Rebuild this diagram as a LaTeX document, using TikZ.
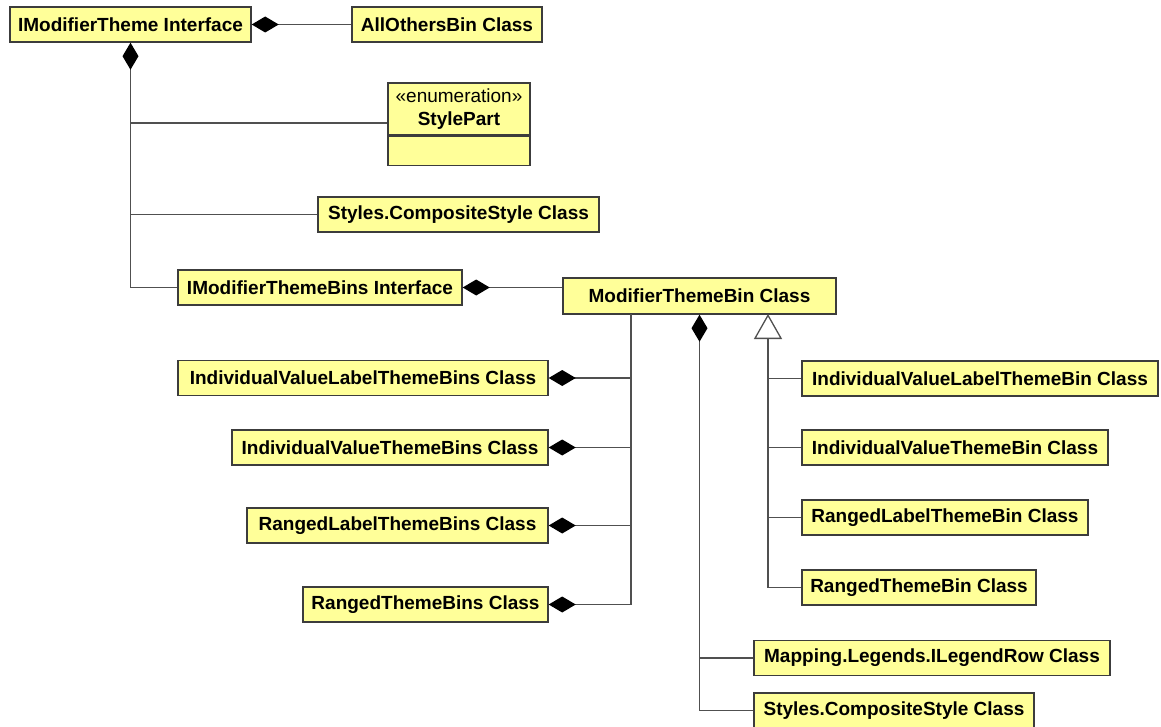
\documentclass[tikz,border=0pt]{standalone}
\usepackage{fontspec}
\setmainfont{Liberation Sans}
\usetikzlibrary{arrows.meta}
\definecolor{umlyellow}{RGB}{255,255,153}
\definecolor{umlborder}{RGB}{60,60,60}
\definecolor{umlline}{RGB}{80,80,80}
\begin{document}
\begin{tikzpicture}[x=1pt,y=-1pt,
  umlbox/.style={draw=umlborder, line width=1.4pt, fill=umlyellow, inner sep=0pt,
    minimum height=35pt, font=\fontsize{19}{22}\selectfont\bfseries, align=center},
  conn/.style={draw=umlline, line width=1.4pt},
  comp/.style={conn, {Diamond[black, fill=black, length=27pt, width=16pt]}-},
  inh/.style={conn, {Triangle[open, umlline, fill=white, length=25pt, width=28pt, line width=1.3pt]}-}
]
\useasboundingbox (0,0) rectangle (1161,727);

\node[umlbox, minimum width=241pt] (imt) at (130.5,24.5) {IModifierTheme Interface};
\node[umlbox, minimum width=190pt] (aob) at (447,24.5) {AllOthersBin Class};
\node[umlbox, minimum width=142pt, minimum height=52pt, font=\fontsize{19}{23}\selectfont] (sp) at (459,109) {«enumeration»\\\bfseries StylePart};
\node[umlbox, minimum width=142pt, minimum height=29pt, anchor=north] (spb) at (sp.south) {};
\node[umlbox, minimum width=281pt] (cs1) at (458.5,214.5) {Styles.CompositeStyle Class};
\node[umlbox, minimum width=284pt] (imtb) at (320,287.5) {IModifierThemeBins Interface};
\node[umlbox, minimum width=273pt, minimum height=36pt] (mtb) at (699.5,296) {ModifierThemeBin Class};

\node[umlbox, minimum width=370pt] (ivltbs) at (363,378) {IndividualValueLabelThemeBins Class};
\node[umlbox, minimum width=316pt] (ivtbs) at (390,447.5) {IndividualValueThemeBins Class};
\node[umlbox, minimum width=301pt] (rltbs) at (397.5,525.5) {RangedLabelThemeBins Class};
\node[umlbox, minimum width=245pt] (rtbs) at (425.5,604.5) {RangedThemeBins Class};

\node[umlbox, minimum width=356pt] (ivltb) at (980,378.5) {IndividualValueLabelThemeBin Class};
\node[umlbox, minimum width=306pt] (ivtb) at (955,447.5) {IndividualValueThemeBin Class};
\node[umlbox, minimum width=286pt] (rltb) at (945,517.5) {RangedLabelThemeBin Class};
\node[umlbox, minimum width=234pt] (rtb) at (919,587.5) {RangedThemeBin Class};

\node[umlbox, minimum width=356pt] (mlr) at (932,658) {Mapping.Legends.ILegendRow Class};
\node[umlbox, minimum width=280pt] (cs2) at (894,710.5) {Styles.CompositeStyle Class};

% IModifierTheme connectors
\draw[comp] (imt.east) -- (aob.west);
\draw[comp] (imt.south) |- (imtb.west);
\coordinate (jsp) at (130.5,123);
\draw[conn] (jsp) -- (jsp -| sp.west);
\draw[conn] (imt.south |- cs1.west) -- (cs1.west);

% IModifierThemeBins -> ModifierThemeBin
\draw[comp] (imtb.east) -- (imtb.east -| mtb.west);

% ModifierThemeBin left aggregation tree
\coordinate (mA) at (631,314);
\draw[comp] (rtbs.east) -| (mA);
\draw[comp] (ivltbs.east) -- (ivltbs.east -| mA);
\draw[comp] (ivtbs.east) -- (ivtbs.east -| mA);
\draw[comp] (rltbs.east) -- (rltbs.east -| mA);

% ModifierThemeBin composition down
\draw[comp] (mtb.south) |- (cs2.west);
\draw[conn] (mtb.south |- mlr.west) -- (mlr.west);

% Inheritance
\coordinate (mB) at (768,314);
\draw[inh] (mB) |- (rtb.west);
\draw[conn] (mB |- ivltb.west) -- (ivltb.west);
\draw[conn] (mB |- ivtb.west) -- (ivtb.west);
\draw[conn] (mB |- rltb.west) -- (rltb.west);
\end{tikzpicture}
\end{document}
